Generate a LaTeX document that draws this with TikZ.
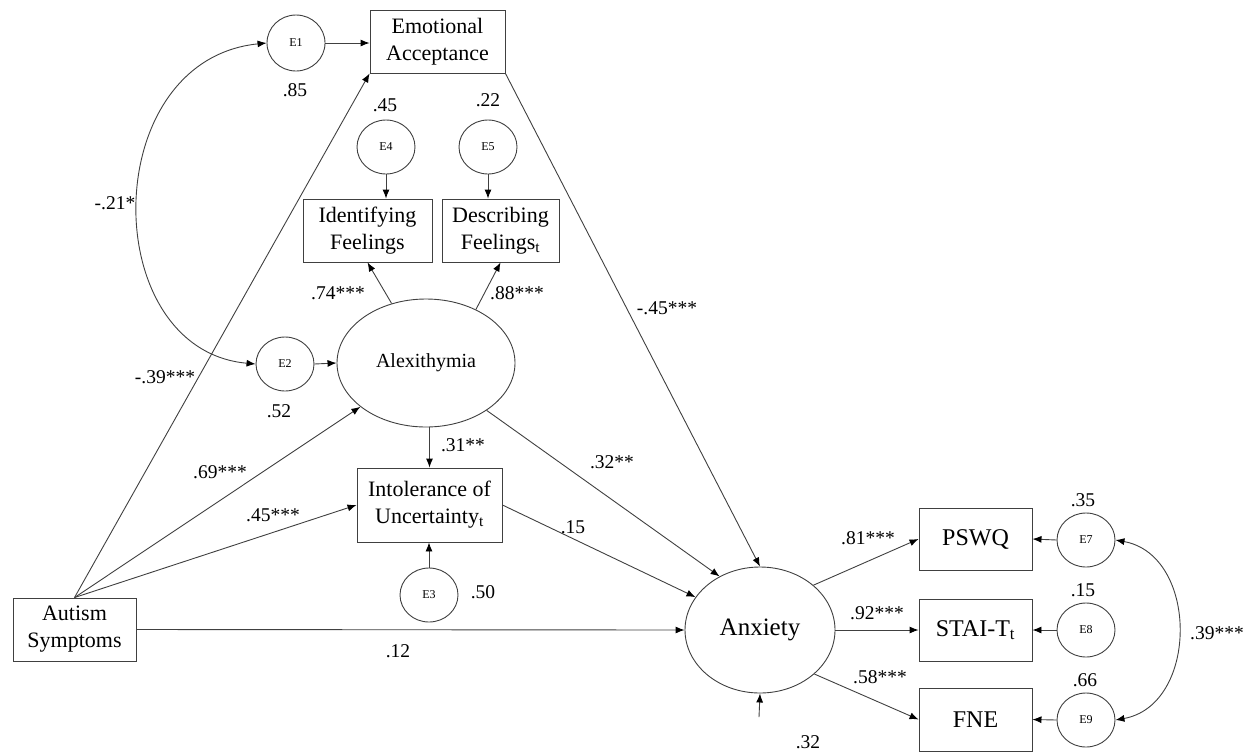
\documentclass[tikz,border=0pt]{standalone}
\usepackage{fontspec}
\setmainfont{Liberation Serif}
\usetikzlibrary{arrows.meta,shapes.geometric}
\tikzset{
  ln/.style={draw=black!75, line width=0.9pt},
  tip/.tip={Latex[length=9pt,width=7pt,color=black]},
  arr/.style={ln, -tip},
  darr/.style={ln, tip-tip},
  obs/.style={ln, rectangle, inner sep=0pt, align=center, font=\fontsize{22}{27}\selectfont},
  obsb/.style={obs, font=\fontsize{24}{28}\selectfont},
  err/.style={ln, ellipse, inner sep=0pt, minimum width=58pt, minimum height=54pt, font=\fontsize{12}{14}\selectfont},
  lat/.style={ln, ellipse, inner sep=0pt},
  num/.style={inner sep=0pt, font=\fontsize{19.5}{22}\selectfont}
}
\begin{document}
\begin{tikzpicture}[x=1pt,y=-1pt]
\useasboundingbox (0,0) rectangle (1252,753);
% observed boxes
\node[obs, minimum width=135pt, minimum height=63pt] (EA) at (437.5,41.5) {Emotional\\Acceptance};
\node[obs, minimum width=129pt, minimum height=63pt] (IF) at (367.5,230.5) {Identifying\\Feelings};
\node[obs, minimum width=117pt, minimum height=63pt] (DF) at (500.5,230.5) {Describing\\Feelings\textsubscript{t}};
\node[obs, minimum width=145pt, minimum height=74pt] (IU) at (429.5,505) {Intolerance of\\Uncertainty\textsubscript{t}};
\node[obs, minimum width=123pt, minimum height=63pt] (AS) at (74.5,629.5) {Autism\\Symptoms};
\node[obsb, minimum width=113pt, minimum height=62pt] (PS) at (975.5,539) {PSWQ};
\node[obsb, minimum width=113pt, minimum height=62pt] (ST) at (975.5,630) {STAI-T\textsubscript{t}};
\node[obsb, minimum width=113pt, minimum height=63pt] (FN) at (975.5,719.5) {FNE};
% latent
\node[lat, minimum width=178pt, minimum height=128pt, font=\fontsize{20}{24}\selectfont] (Alex) at (426,363) {Alexithymia};
\node[lat, minimum width=150pt, minimum height=126pt, font=\fontsize{25}{30}\selectfont] (Anx) at (760,630) {Anxiety};
% errors
\node[err, minimum height=56pt] (E1) at (296,43) {E1};
\node[err] (E2) at (285,364) {E2};
\node[err] (E3) at (429,595) {E3};
\node[err] (E4) at (386,147) {E4};
\node[err] (E5) at (488,147) {E5};
\node[err] (E7) at (1086,540) {E7};
\node[err] (E8) at (1086,630) {E8};
\node[err] (E9) at (1086,720) {E9};
\coordinate (Dres) at (759,717);
% paths
\draw[arr] (E1.east) -- (E1.east -| EA.west);
\draw[arr] (AS.north) -- (EA.south west);
\draw[arr] (AS.north) -- (Alex);
\draw[arr] (AS.north) -- (IU.west);
\draw[arr] (AS.east) -- (Anx.west);
\draw[arr] (EA.south east) -- (Anx.north);
\draw[arr] (Alex.120) -- (IF.south);
\draw[arr] (Alex.47) -- (DF.south);
\draw[arr] (IU.north |- Alex.south) -- (IU.north);
\draw[arr] (Alex.-38) -- (Anx.127);
\draw[arr] (IU.east) -- (Anx.153);
\draw[arr] (E2.east) -- (Alex.west);
\draw[arr] (E4.south) -- (E4.south |- IF.north);
\draw[arr] (E5.south) -- (E5.south |- DF.north);
\draw[arr] (E3.north) -- (E3.north |- IU.south);
\draw[arr] (Anx.40) -- (PS.west);
\draw[arr] (Anx.east) -- (ST.west);
\draw[arr] (Anx.-39) -- (FN.west);
\draw[arr] (E7.west) -- (PS.east);
\draw[arr] (E8.west) -- (ST.east);
\draw[arr] (E9.west) -- (FN.east);
\draw[arr] (Dres) -- (Anx.south);
\draw[darr] (E1.west) .. controls (97,60) and (97,350) .. (E2.west);
\draw[darr] (E7.east) .. controls (1199,555) and (1199,705) .. (E9.east);
% labels
\node[num] (l85) at (295,90) {.85};
\node[num] (l45a) at (385,105) {.45};
\node[num] (l22) at (488,100) {.22};
\node[num] (l21) at (115,203) {-.21*};
\node[num] (l39) at (165,377) {-.39***};
\node[num] (l52) at (279,411) {.52};
\node[num] (l74) at (338,293) {.74***};
\node[num] (l88) at (517,293) {.88***};
\node[num] (l45n) at (667,308) {-.45***};
\node[num] (l31) at (463,445) {.31**};
\node[num] (l32a) at (612,462) {.32**};
\node[num] (l69) at (220,472) {.69***};
\node[num] (l45b) at (273,515) {.45***};
\node[num] (l15a) at (573,527) {.15};
\node[num] (l50) at (483,592) {.50};
\node[num] (l12) at (398,651) {.12};
\node[num] (l32b) at (808,742) {.32};
\node[num] (l81) at (868,538) {.81***};
\node[num] (l92) at (877,613) {.92***};
\node[num] (l58) at (880,677) {.58***};
\node[num] (l35) at (1083,500) {.35};
\node[num] (l15b) at (1083,590) {.15};
\node[num] (l66) at (1085,680) {.66};
\node[num] (l39b) at (1217,633) {.39***};
\end{tikzpicture}
\end{document}
